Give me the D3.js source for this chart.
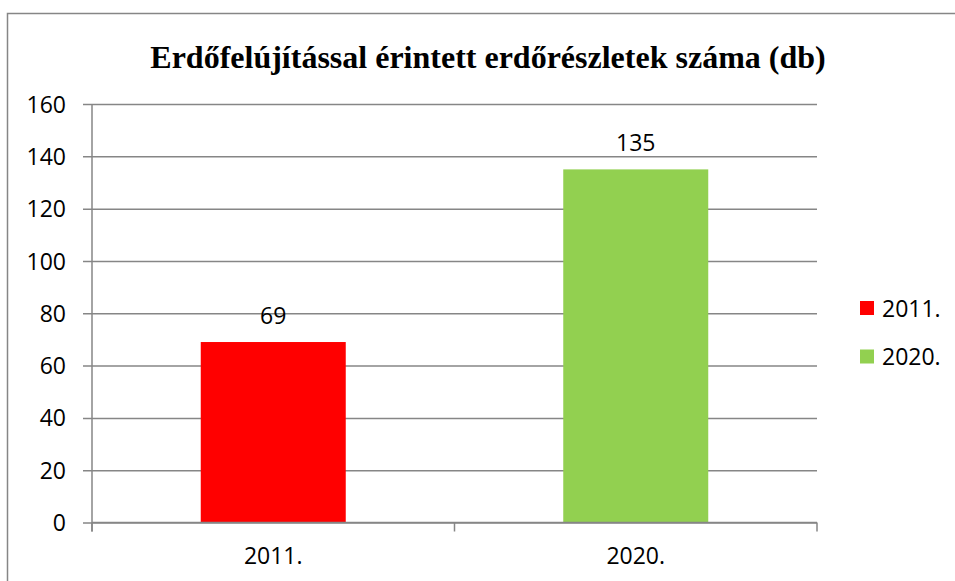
<!DOCTYPE html>
<html>
<head>
<meta charset="utf-8">
<script src="https://cdn.jsdelivr.net/npm/d3@7"></script>
<style>
  body { margin: 0; background: #fff; }
  text { font-family: "Open Sans", sans-serif; fill: #000; }
</style>
</head>
<body>
<div id="chart"></div>
<script>
const categories = ['2011.', '2020.'];
const values = [69, 135];
const colors = ['#ff0000', '#92d050'];
const yTicks = [0, 20, 40, 60, 80, 100, 120, 140, 160];
const title = 'Erdőfelújítással érintett erdőrészletek száma (db)';

const width = 955;
const height = 581;
const plot = {left: 92, right: 817, top: 104, bottom: 522.5};

const svg = d3.select('#chart')
              .append('svg')
              .attr('width', width)
              .attr('height', height);

// outer chart border (runs off the right and bottom edge)
svg.append('rect')
    .attr('x', 7.5)
    .attr('y', 13.5)
    .attr('width', 960)
    .attr('height', 600)
    .attr('fill', 'none')
    .attr('stroke', '#868686')
    .attr('stroke-width', 1.5);

svg.append('text')
    .attr('x', 488)
    .attr('y', 68)
    .attr('text-anchor', 'middle')
    .style('font-family', '"Liberation Serif", "Times New Roman", serif')
    .style('font-weight', 'bold')
    .style('font-size', '32px')
    .text(title);

const xScale = d3.scaleBand()
                  .domain(categories)
                  .range([plot.left, plot.right])
                  .paddingInner(0.6)
                  .paddingOuter(0.3);

const yScale = d3.scaleLinear()
                  .domain([0, 160])
                  .range([plot.bottom, plot.top]);

// gridlines + y axis
const yAxis = svg.append('g')
    .attr('class', 'y axis')
    .attr('transform', 'translate(' + plot.left + ',0)')
    .call(d3.axisLeft(yScale)
            .tickValues(yTicks)
            .tickSize(-(plot.right - plot.left))
            .tickPadding(0)
            .tickFormat(d3.format('d')));

yAxis.select('.domain').remove();
yAxis.selectAll('.tick line')
    .attr('x1', -9)
    .attr('stroke', '#868686')
    .attr('stroke-width', 1.5);
yAxis.selectAll('.tick text')
    .attr('x', -26)
    .attr('dy', '0.35em')
    .style('font-size', '23px');

svg.append('line')
    .attr('x1', plot.left)
    .attr('x2', plot.left)
    .attr('y1', plot.top)
    .attr('y2', plot.bottom + 9)
    .attr('stroke', '#868686')
    .attr('stroke-width', 1.5);

// bars
svg.selectAll('.bar')
  .data(values)
  .enter().append('rect')
    .attr('class', 'bar')
    .attr('x', (d, i) => xScale(categories[i]))
    .attr('y', d => yScale(d))
    .attr('width', xScale.bandwidth())
    .attr('height', d => yScale(0) - yScale(d))
    .attr('fill', (d, i) => colors[i]);

// x axis
const step = xScale.step();
const xTicks = d3.range(categories.length + 1).map(i => plot.left + i * step);

svg.append('line')
    .attr('x1', plot.left)
    .attr('x2', plot.right)
    .attr('y1', plot.bottom)
    .attr('y2', plot.bottom)
    .attr('stroke', '#868686')
    .attr('stroke-width', 1.5);

svg.selectAll('.xtick')
  .data(xTicks)
  .enter().append('line')
    .attr('class', 'xtick')
    .attr('x1', d => d)
    .attr('x2', d => d)
    .attr('y1', plot.bottom)
    .attr('y2', plot.bottom + 9)
    .attr('stroke', '#868686')
    .attr('stroke-width', 1.5);

svg.selectAll('.xlabel')
  .data(categories)
  .enter().append('text')
    .attr('class', 'xlabel')
    .attr('x', d => xScale(d) + xScale.bandwidth() / 2)
    .attr('y', 564)
    .attr('text-anchor', 'middle')
    .style('font-size', '23px')
    .text(d => d);

// data labels
svg.selectAll('.vlabel')
  .data(values)
  .enter().append('text')
    .attr('class', 'vlabel')
    .attr('x', (d, i) => xScale(categories[i]) + xScale.bandwidth() / 2)
    .attr('y', d => yScale(d) - 18)
    .attr('text-anchor', 'middle')
    .style('font-size', '23px')
    .text(d => d);

// legend
const legend = svg.selectAll('.legend')
  .data(categories)
  .enter().append('g')
    .attr('class', 'legend')
    .attr('transform', (d, i) => 'translate(860,' + (301 + i * 48.5) + ')');

legend.append('rect')
    .attr('width', 14)
    .attr('height', 14)
    .attr('fill', (d, i) => colors[i]);

legend.append('text')
    .attr('x', 22)
    .attr('y', 15.5)
    .style('font-size', '23px')
    .text(d => d);
</script>
</body>
</html>
